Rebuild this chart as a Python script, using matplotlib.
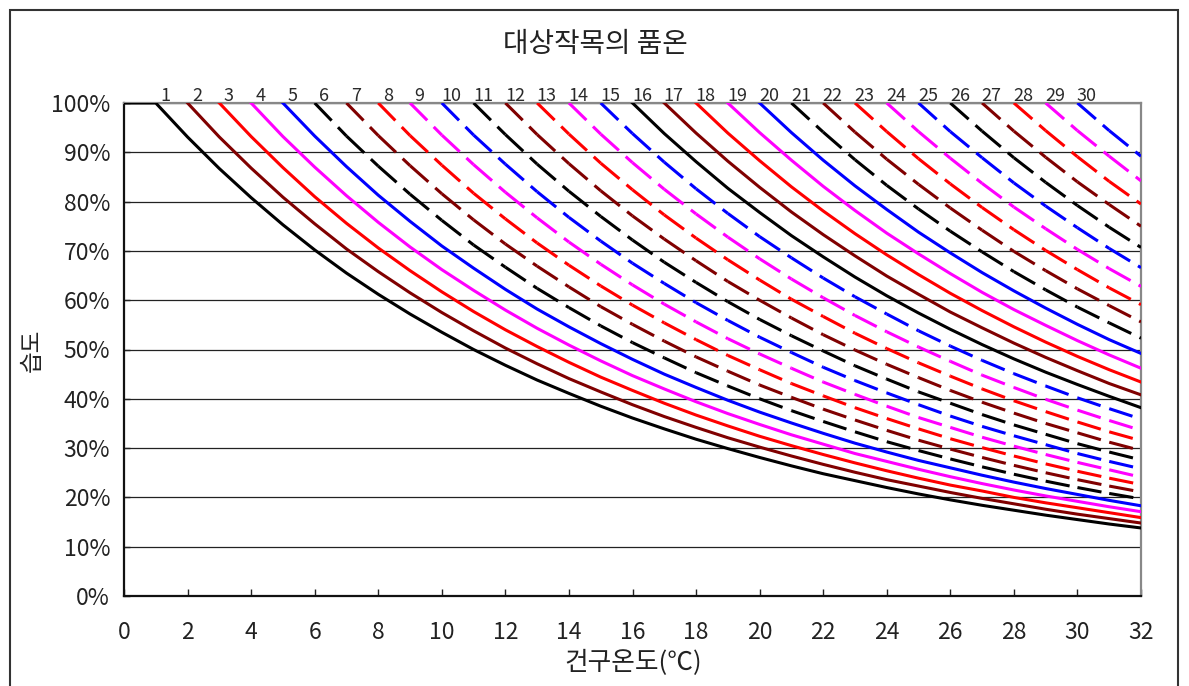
import matplotlib
matplotlib.use("Agg")
import matplotlib.pyplot as plt
from matplotlib.collections import LineCollection
from matplotlib.patches import Rectangle

plt.rcParams['font.family'] = ['Noto Sans CJK KR', 'DejaVu Sans']

# dry-bulb temperature (°C), one point per degree
dry_bulb = list(range(33))

# relative humidity (%) for each numbered curve, from its start temperature up to 32°C
rh_01 = [100, 100, 93.1, 86.7, 80.8, 75.3, 70.2, 65.5, 61.2, 57.2, 53.5, 50.0, 46.8, 43.8, 41.1, 38.5,
         36.1, 33.9, 31.8, 29.9, 28.1, 26.4, 24.8, 23.4, 22.0, 20.7, 19.5, 18.4, 17.4, 16.4, 15.5, 14.6, 13.8]
rh_02 = [100, 93.1, 86.8, 80.9, 75.5, 70.4, 65.8, 61.5, 57.5, 53.8, 50.3, 47.1, 44.1, 41.4, 38.8, 36.4,
         34.2, 32.1, 30.2, 28.4, 26.7, 25.1, 23.6, 22.3, 21.0, 19.8, 18.7, 17.6, 16.6, 15.7, 14.8]
rh_03 = [100, 93.2, 86.9, 81.0, 75.6, 70.6, 66.0, 61.7, 57.7, 54.0, 50.6, 47.4, 44.4, 41.7, 39.1, 36.7,
         34.5, 32.4, 30.5, 28.7, 27.0, 25.4, 23.9, 22.5, 21.3, 20.0, 18.9, 17.9, 16.9, 15.9]
rh_04 = [100, 93.2, 87.0, 81.2, 75.8, 70.8, 66.2, 62.0, 58.0, 54.3, 50.9, 47.7, 44.7, 42.0, 39.4, 37.0,
         34.8, 32.7, 30.8, 28.9, 27.3, 25.7, 24.2, 22.8, 21.5, 20.3, 19.2, 18.1, 17.1]
rh_05 = [100, 93.3, 87.1, 81.3, 76.0, 71.0, 66.5, 62.2, 58.2, 54.6, 51.2, 48.0, 45.0, 42.3, 39.7, 37.3,
         35.1, 33.0, 31.0, 29.2, 27.5, 26.0, 24.5, 23.1, 21.8, 20.6, 19.4, 18.3]
rh_06 = [100, 93.3, 87.2, 81.5, 76.2, 71.2, 66.7, 62.4, 58.5, 54.8, 51.4, 48.3, 45.3, 42.6, 40.0, 37.6,
         35.4, 33.3, 31.3, 29.5, 27.8, 26.2, 24.7, 23.3, 22.0, 20.8, 19.7]
rh_07 = [100, 93.4, 87.3, 81.6, 76.3, 71.4, 66.9, 62.7, 58.7, 55.1, 51.7, 48.5, 45.6, 42.8, 40.3, 37.9,
         35.7, 33.6, 31.6, 29.8, 28.1, 26.5, 25.0, 23.6, 22.3, 21.1]
rh_08 = [100, 93.4, 87.4, 81.7, 76.5, 71.6, 67.1, 62.9, 59.0, 55.4, 52.0, 48.8, 45.9, 43.1, 40.6, 38.2,
         36.0, 33.9, 31.9, 30.1, 28.4, 26.8, 25.3, 23.9, 22.6]
rh_09 = [100, 93.5, 87.5, 81.9, 76.7, 71.8, 67.3, 63.1, 59.2, 55.6, 52.2, 49.1, 46.2, 43.4, 40.9, 38.5,
         36.2, 34.2, 32.2, 30.4, 28.7, 27.1, 25.6, 24.1]
rh_10 = [100, 93.5, 87.6, 82.0, 76.8, 72.0, 67.5, 63.4, 59.5, 55.9, 52.5, 49.4, 46.4, 43.7, 41.2, 38.8,
         36.5, 34.4, 32.5, 30.7, 28.9, 27.3, 25.8]
rh_11 = [100, 93.6, 87.6, 82.1, 77.0, 72.2, 67.7, 63.6, 59.7, 56.1, 52.8, 49.7, 46.7, 44.0, 41.4, 39.1,
         36.8, 34.7, 32.8, 30.9, 29.2, 27.6]
rh_12 = [100, 93.6, 87.7, 82.2, 77.1, 72.4, 68.0, 63.8, 60.0, 56.4, 53.0, 49.9, 47.0, 44.3, 41.7, 39.3,
         37.1, 35.0, 33.1, 31.2, 29.5]
rh_13 = [100, 93.7, 87.8, 82.4, 77.3, 72.6, 68.2, 64.1, 60.2, 56.7, 53.3, 50.2, 47.3, 44.6, 42.0, 39.6,
         37.4, 35.3, 33.3, 31.5]
rh_14 = [100, 93.7, 87.9, 82.5, 77.5, 72.8, 68.4, 64.3, 60.5, 56.9, 53.6, 50.5, 47.6, 44.8, 42.3, 39.9,
         37.7, 35.6, 33.6]
rh_15 = [100, 93.8, 88.0, 82.6, 77.6, 72.9, 68.6, 64.5, 60.7, 57.2, 53.8, 50.7, 47.8, 45.1, 42.6, 40.2,
         38.0, 35.9]
rh_16 = [100, 93.8, 88.1, 82.7, 77.8, 73.1, 68.8, 64.7, 60.9, 57.4, 54.1, 51.0, 48.1, 45.4, 42.9, 40.5, 38.2]
rh_17 = [100, 93.9, 88.2, 82.9, 77.9, 73.3, 69.0, 64.9, 61.2, 57.6, 54.4, 51.3, 48.4, 45.7, 43.1, 40.8]
rh_18 = [100, 93.9, 88.3, 83.0, 78.1, 73.5, 69.2, 65.2, 61.4, 57.9, 54.6, 51.5, 48.6, 45.9, 43.4]
rh_19 = [100, 94.0, 88.4, 83.1, 78.2, 73.6, 69.4, 65.4, 61.6, 58.1, 54.9, 51.8, 48.9, 46.2]
rh_20 = [100, 94.0, 88.4, 83.2, 78.4, 73.8, 69.6, 65.6, 61.9, 58.4, 55.1, 52.0, 49.2]
rh_21 = [100, 94.1, 88.5, 83.3, 78.5, 74.0, 69.8, 65.8, 62.1, 58.6, 55.4, 52.3]
rh_22 = [100, 94.1, 88.6, 83.5, 78.7, 74.2, 69.9, 66.0, 62.3, 58.9, 55.6]
rh_23 = [100, 94.2, 88.7, 83.6, 78.8, 74.3, 70.1, 66.2, 62.5, 59.1]
rh_24 = [100, 94.2, 88.8, 83.7, 78.9, 74.5, 70.3, 66.4, 62.8]
rh_25 = [100, 94.2, 88.9, 83.8, 79.1, 74.7, 70.5, 66.6]
rh_26 = [100, 94.3, 88.9, 83.9, 79.2, 74.8, 70.7]
rh_27 = [100, 94.3, 89.0, 84.0, 79.4, 75.0]
rh_28 = [100, 94.4, 89.1, 84.1, 79.5]
rh_29 = [100, 94.4, 89.2, 84.2]
rh_30 = [100, 94.4, 89.2]

curves = [rh_01, rh_02, rh_03, rh_04, rh_05, rh_06, rh_07, rh_08, rh_09, rh_10,
          rh_11, rh_12, rh_13, rh_14, rh_15, rh_16, rh_17, rh_18, rh_19, rh_20,
          rh_21, rh_22, rh_23, rh_24, rh_25, rh_26, rh_27, rh_28, rh_29, rh_30]
curve_labels = [str(n) for n in range(1, 31)]
curve_start = list(range(1, 31))

x_ticks = list(range(0, 33, 2))
y_ticks = list(range(0, 101, 10))
y_tick_labels = ['%d%%' % v for v in y_ticks]

# styles: colour repeats every five curves, curves 6-15 and 21-30 dashed
line_colors = ['#000000', '#800000', '#ff0000', '#ff00ff', '#0000ff']
dashed = [False] * 5 + [True] * 10 + [False] * 5 + [True] * 10

fig = plt.figure(figsize=(11.89, 6.86), dpi=100)
ax = fig.add_axes([124 / 1189, 1 - 596 / 686, 1017 / 1189, 493 / 686])

for i, rh in enumerate(curves):
    x = dry_bulb[len(dry_bulb) - len(rh):]
    color = line_colors[i % 5]
    if dashed[i]:
        # the dash pattern restarts at every data point
        segs = [[(x[k], rh[k]), (x[k + 1], rh[k + 1])] for k in range(len(rh) - 1)]
        lc = LineCollection(segs, colors=color, linewidths=2.2,
                            linestyles=[(0, (8, 3))], zorder=3)
        ax.add_collection(lc)
    else:
        ax.plot(x, rh, color=color, lw=2.2, zorder=3, solid_joinstyle='round')

for n, lab in zip(curve_start, curve_labels):
    ax.text(n + 0.3, 100.5, lab, ha='center', va='baseline', fontsize=13,
            color='#2a2a2a', clip_on=False)

ax.set_xlim(0, 32)
ax.set_ylim(0, 100)
ax.set_xticks(x_ticks)
ax.set_yticks(y_ticks)
ax.set_yticklabels(y_tick_labels)
ax.tick_params(axis='x', direction='in', length=5, width=1, pad=18, labelsize=16.5, colors='#222222')
ax.tick_params(axis='y', direction='in', length=4, width=1, pad=10, labelsize=16.5, colors='#222222')

ax.yaxis.grid(True, color='#222222', lw=0.9)
ax.set_axisbelow(True)

for side in ['left', 'bottom']:
    ax.spines[side].set_color('#111111')
    ax.spines[side].set_linewidth(1.6)
for side in ['top', 'right']:
    ax.spines[side].set_color('#888888')
    ax.spines[side].set_linewidth(1.6)

fig.text(0.5008, 1 - 44 / 686, '대상작목의 품온', ha='center', va='center', fontsize=20, color='#222222')
fig.text(0.5324, 1 - 663 / 686, '건구온도(℃)', ha='center', va='center', fontsize=18.5, color='#222222')
fig.text(32 / 1189, 1 - 350 / 686, '습도', ha='center', va='center', rotation=90,
         fontsize=17, color='#222222')

# frame around the whole chart
fig.patches.append(Rectangle((10 / 1189, -0.02), 1168 / 1189, 1.02 - 10 / 686,
                             transform=fig.transFigure, fill=False, lw=1.5,
                             edgecolor='#333333'))

fig.savefig('out.png', dpi=100)
